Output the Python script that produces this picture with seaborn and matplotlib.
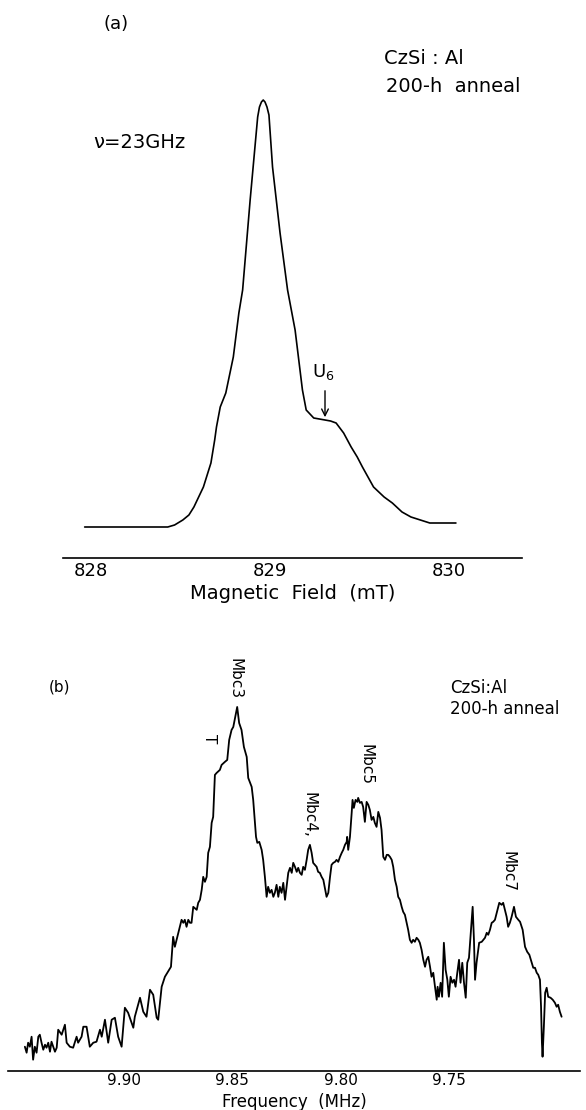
import matplotlib
matplotlib.use("Agg")
import matplotlib.pyplot as plt
import seaborn as sns

# -----------------------------------------------------------
# (a) ODMR line, magnetic field sweep at 23 GHz
# -----------------------------------------------------------
field_mT = [827.968, 828.223, 828.432, 828.470, 828.516, 828.550, 828.578, 828.631, 828.673, 828.694,
            828.704, 828.725, 828.756, 828.798, 828.829, 828.850, 828.892, 828.934, 828.944, 828.955,
            828.965, 828.975, 828.986, 828.997, 829.017, 829.059, 829.101, 829.143, 829.184, 829.205,
            829.247, 829.310, 829.341, 829.372, 829.414, 829.456, 829.490, 829.519, 829.581, 829.640,
            829.686, 829.740, 829.790, 829.895, 830.041]
signal_a = [0, 0, 0, 2, 7, 12, 20, 40, 64, 87,
            100, 120, 134, 170, 214, 237, 327, 410, 420, 425,
            427, 425, 420, 412, 360, 294, 237, 197, 137, 117,
            109, 107, 106, 104, 94, 80, 70, 60, 40, 30,
            24, 15, 10, 4, 4]
field_ticks = [828, 829, 830]
field_ticklabels = ["828", "829", "830"]
u6_pos = (829.31, 107)

# -----------------------------------------------------------
# (b) ENDOR spectrum, frequency sweep
# -----------------------------------------------------------
freq_MHz = [
    9.9459, 9.9451, 9.9444, 9.9436, 9.9428, 9.9421, 9.9413, 9.9405, 9.9397, 9.9390,
    9.9382, 9.9374, 9.9366, 9.9359, 9.9351, 9.9343, 9.9336, 9.9328, 9.9320, 9.9312,
    9.9305, 9.9289, 9.9274, 9.9266, 9.9251, 9.9236, 9.9220, 9.9213, 9.9197, 9.9189,
    9.9174, 9.9159, 9.9143, 9.9128, 9.9112, 9.9104, 9.9089, 9.9074, 9.9058, 9.9043,
    9.9028, 9.9012, 9.8997, 9.8982, 9.8966, 9.8958, 9.8951, 9.8927, 9.8912, 9.8897,
    9.8881, 9.8866, 9.8850, 9.8843, 9.8827, 9.8812, 9.8801, 9.8784, 9.8774, 9.8766,
    9.8750, 9.8735, 9.8727, 9.8720, 9.8712, 9.8704, 9.8696, 9.8689, 9.8681, 9.8665,
    9.8658, 9.8650, 9.8642, 9.8635, 9.8627, 9.8619, 9.8612, 9.8604, 9.8596, 9.8589,
    9.8581, 9.8573, 9.8558, 9.8550, 9.8535, 9.8524, 9.8515, 9.8504, 9.8496, 9.8488,
    9.8478, 9.8469, 9.8458, 9.8447, 9.8434, 9.8427, 9.8411, 9.8404, 9.8391, 9.8385,
    9.8376, 9.8365, 9.8358, 9.8350, 9.8342, 9.8335, 9.8327, 9.8319, 9.8311, 9.8304,
    9.8296, 9.8288, 9.8281, 9.8273, 9.8265, 9.8257, 9.8250, 9.8242, 9.8234, 9.8226,
    9.8219, 9.8211, 9.8203, 9.8196, 9.8188, 9.8180, 9.8173, 9.8165, 9.8157, 9.8150,
    9.8142, 9.8134, 9.8127, 9.8119, 9.8111, 9.8104, 9.8096, 9.8088, 9.8080, 9.8073,
    9.8065, 9.8057, 9.8049, 9.8042, 9.8034, 9.8026, 9.8019, 9.8011, 9.8003, 9.7995,
    9.7988, 9.7980, 9.7972, 9.7970, 9.7965, 9.7957, 9.7949, 9.7945, 9.7939, 9.7931,
    9.7923, 9.7919, 9.7911, 9.7903, 9.7896, 9.7888, 9.7880, 9.7872, 9.7865, 9.7857,
    9.7849, 9.7842, 9.7834, 9.7826, 9.7818, 9.7811, 9.7803, 9.7795, 9.7787, 9.7780,
    9.7772, 9.7764, 9.7757, 9.7749, 9.7741, 9.7734, 9.7726, 9.7718, 9.7711, 9.7703,
    9.7695, 9.7688, 9.7680, 9.7672, 9.7665, 9.7657, 9.7649, 9.7641, 9.7634, 9.7626,
    9.7618, 9.7610, 9.7603, 9.7595, 9.7587, 9.7580, 9.7572, 9.7564, 9.7556, 9.7552,
    9.7546, 9.7538, 9.7531, 9.7523, 9.7515, 9.7507, 9.7500, 9.7492, 9.7484, 9.7476,
    9.7469, 9.7461, 9.7453, 9.7446, 9.7438, 9.7430, 9.7422, 9.7415, 9.7407, 9.7403,
    9.7390, 9.7384, 9.7379, 9.7372, 9.7360, 9.7348, 9.7333, 9.7325, 9.7318, 9.7310,
    9.7302, 9.7295, 9.7287, 9.7279, 9.7267, 9.7256, 9.7249, 9.7241, 9.7233, 9.7226,
    9.7218, 9.7210, 9.7199, 9.7190, 9.7179, 9.7171, 9.7159, 9.7148, 9.7138, 9.7128,
    9.7117, 9.7110, 9.7102, 9.7094, 9.7087, 9.7079, 9.7074, 9.7070, 9.7067, 9.7061,
    9.7055, 9.7048, 9.7041, 9.7030, 9.7020, 9.7010, 9.7002, 9.6995, 9.6987, 9.6979,
]
signal_b = [
    24, 18, 28, 24, 34, 11, 24, 18, 34, 36,
    28, 21, 26, 23, 28, 19, 29, 24, 19, 23,
    41, 36, 46, 28, 24, 23, 34, 28, 34, 44,
    44, 24, 28, 29, 41, 34, 51, 28, 51, 53,
    34, 24, 63, 58, 48, 43, 54, 73, 59, 54,
    81, 76, 53, 51, 84, 94, 98, 104, 134, 124,
    138, 151, 148, 151, 144, 151, 148, 148, 164, 161,
    168, 171, 181, 194, 189, 194, 218, 224, 248, 254,
    296, 298, 301, 306, 309, 311, 331, 341, 344, 353,
    364, 348, 341, 324, 314, 293, 284, 271, 234, 228,
    229, 221, 211, 194, 174, 184, 178, 181, 174, 178,
    186, 174, 184, 178, 188, 171, 184, 198, 203, 198,
    208, 204, 199, 203, 198, 196, 204, 201, 211, 221,
    226, 218, 208, 206, 204, 199, 198, 194, 191, 183,
    174, 178, 194, 206, 208, 209, 211, 209, 214, 218,
    221, 226, 229, 234, 221, 234, 258, 271, 263, 271,
    269, 273, 268, 269, 264, 249, 269, 266, 261, 251,
    254, 248, 244, 259, 253, 241, 214, 211, 216, 216,
    214, 211, 204, 191, 184, 174, 171, 164, 159, 156,
    148, 141, 131, 128, 131, 129, 133, 131, 128, 121,
    111, 104, 111, 114, 104, 94, 98, 84, 71, 84,
    74, 88, 74, 128, 101, 91, 74, 94, 88, 91,
    84, 98, 111, 88, 108, 88, 73, 108, 113, 124,
    164, 131, 91, 108, 128, 129, 133, 138, 136, 141,
    148, 149, 151, 158, 168, 166, 168, 161, 154, 144,
    148, 154, 164, 154, 151, 149, 141, 124, 119, 116,
    108, 103, 103, 98, 96, 91, 64, 28, 14, 44,
    78, 83, 74, 73, 71, 68, 64, 66, 59, 54,
]
freq_ticks = [9.90, 9.85, 9.80, 9.75]
freq_ticklabels = ["9.90", "9.85", "9.80", "9.75"]

# peak labels: text, frequency, height
peak_names = ["Mbc3", "T", "Mbc4,", "Mbc5", "Mbc7"]
peak_freq = [9.8488, 9.8604, 9.8147, 9.7883, 9.7227]
peak_height = [392, 332, 256, 306, 199]

# -----------------------------------------------------------
# Figure
# -----------------------------------------------------------
sns.set_theme(style="white")
plt.rcParams["font.family"] = ["DejaVu Sans"]
plt.rcParams["text.color"] = "black"
plt.rcParams["axes.labelcolor"] = "black"
W, H = 586, 1110
fig = plt.figure(figsize=(W / 100, H / 100), dpi=100)

ax_a = fig.add_axes([63 / W, 1 - 558 / H, 459 / W, 518 / H])
ax_b = fig.add_axes([8 / W, 1 - 1070.7 / H, 572 / W, 430.7 / H])

# panel (a)
sns.lineplot(x=field_mT, y=signal_a, ax=ax_a, color="black", lw=1.2)
ax_a.set_xlim(827.847, 830.41)
ax_a.set_ylim(-31, 487)
ax_a.set_xticks(field_ticks)
ax_a.set_xticklabels(field_ticklabels, fontsize=13)
ax_a.set_yticks([])
ax_a.tick_params(axis="x", direction="in", length=9, width=1.1, pad=3, colors="black")
ax_a.set_xlabel("Magnetic  Field  (mT)", fontsize=14, labelpad=3)
ax_a.annotate("", xy=u6_pos, xytext=(u6_pos[0], u6_pos[1] + 32),
              arrowprops=dict(arrowstyle="->", color="black", lw=1.0))
ax_a.text(u6_pos[0] - 0.01, u6_pos[1] + 48, "U$_6$", fontsize=13, ha="center", va="center")

fig.text(116 / W, 1 - 24 / H, "(a)", fontsize=13, ha="center", va="center")
fig.text(384 / W, 1 - 58 / H, "CzSi : Al", fontsize=14, ha="left", va="center")
fig.text(386 / W, 1 - 86 / H, "200-h  anneal", fontsize=14, ha="left", va="center")
fig.text(93 / W, 1 - 142 / H, "ν=23GHz", fontsize=14, ha="left", va="center")

# panel (b)
sns.lineplot(x=freq_MHz, y=signal_b, ax=ax_b, color="black", lw=1.3)
ax_b.set_xlim(9.9537, 9.6894)
ax_b.set_ylim(0, 431)
ax_b.set_xticks(freq_ticks)
ax_b.set_xticklabels(freq_ticklabels, fontsize=11)
ax_b.set_yticks([])
ax_b.tick_params(axis="x", direction="in", length=7, width=1.1, pad=2, colors="black")
ax_b.set_xlabel("Frequency  (MHz)", fontsize=12, labelpad=3)
for name, fx, hy in zip(peak_names, peak_freq, peak_height):
    ax_b.text(fx, hy, name, fontsize=11, rotation=-90, ha="center", va="center")

fig.text(59 / W, 1 - 687 / H, "(b)", fontsize=11, ha="center", va="center")
fig.text(450 / W, 1 - 688 / H, "CzSi:Al", fontsize=12, ha="left", va="center")
fig.text(450 / W, 1 - 709 / H, "200-h anneal", fontsize=12, ha="left", va="center")

for ax in (ax_a, ax_b):
    sns.despine(ax=ax, left=True)
    ax.spines["bottom"].set_color("black")
    ax.spines["bottom"].set_linewidth(1.2)
    ax.set_facecolor("white")

fig.savefig("out.png", dpi=100, facecolor="white")
